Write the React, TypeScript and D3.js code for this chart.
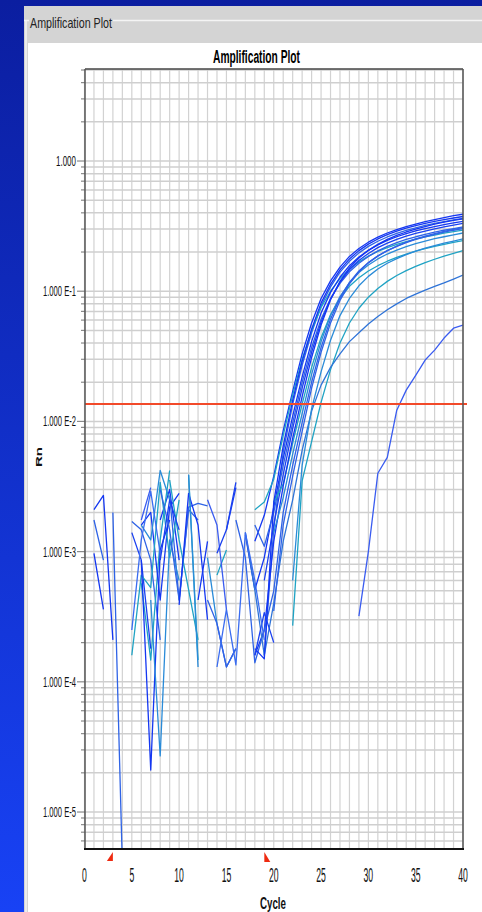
import React from 'react';
import * as d3 from 'd3';

// cycle numbers, one per reading
const cycles = [1, 2, 3, 4, 5, 6, 7, 8, 9, 10, 11, 12, 13, 14, 15, 16, 17, 18, 19, 20,
  21, 22, 23, 24, 25, 26, 27, 28, 29, 30, 31, 32, 33, 34, 35, 36, 37, 38, 39, 40];

const xTicks = [0, 5, 10, 15, 20, 25, 30, 35, 40];
const yTickValues = [1, 1e-1, 1e-2, 1e-3, 1e-4, 1e-5];
const yTickLabels = ['1.000', '1.000 E-1', '1.000 E-2', '1.000 E-3', '1.000 E-4', '1.000 E-5'];
const threshold = 0.0136;
const baselineStart = 3;
const baselineEnd = 19;

// delta Rn per well (null = no positive reading)
const well01 = [2.1e-3, 2.7e-3, 2.1e-4, null, null, null, null, 1.75e-3, 3.0e-3, 8.6e-4,
  null, null, null, null, null, null, null, 1.2e-3, 1.9e-3, 3.8e-3,
  8.5e-3, 0.017, 0.033, 0.057, 0.088, 0.12, 0.153, 0.185, 0.213, 0.238,
  0.26, 0.28, 0.297, 0.313, 0.328, 0.342, 0.355, 0.368, 0.38, 0.39];
const well02 = [1.75e-3, 8.6e-4, null, null, 1.7e-3, 1.47e-3, 8.6e-4, 2.1e-4, null, null,
  null, null, null, 2.8e-4, 1.3e-4, 1.8e-4, null, null, 1.6e-4, 1.5e-3,
  5.8e-3, 0.0136, 0.027, 0.048, 0.077, 0.108, 0.14, 0.17, 0.197, 0.221,
  0.242, 0.261, 0.278, 0.293, 0.307, 0.32, 0.332, 0.343, 0.353, 0.362];
const well03 = [null, null, null, null, null, 5.7e-4, 1.47e-4, 1.23e-3, 4.2e-3, null,
  3.9e-3, 1.47e-4, null, null, null, null, null, 2.1e-3, 2.4e-3, 3.6e-3,
  7.8e-3, 0.016, 0.03, 0.05, 0.075, 0.1, 0.125, 0.148, 0.168, 0.186,
  0.202, 0.216, 0.229, 0.24, 0.251, 0.261, 0.27, 0.279, 0.287, 0.295];
const well04 = [9.7e-4, 3.6e-4, null, null, null, 1.6e-3, 2.0e-3, 4.25e-4, 2.2e-3, 2.8e-3,
  null, null, null, null, null, null, 1.35e-3, 5.1e-4, 9e-4, 2.2e-3,
  5.2e-3, 0.011, 0.022, 0.041, 0.068, 0.098, 0.128, 0.157, 0.183, 0.206,
  0.227, 0.246, 0.262, 0.277, 0.291, 0.303, 0.314, 0.325, 0.335, 0.344];
const well05 = [null, null, 2.0e-3, 4e-6, null, null, null, null, 2.7e-3, 4.25e-4,
  2.2e-3, 2.35e-3, 2.25e-3, null, null, null, null, 1.6e-3, 1.1e-3, 2.0e-3,
  4.6e-3, 9.8e-3, 0.02, 0.037, 0.061, 0.088, 0.115, 0.141, 0.164, 0.185,
  0.204, 0.221, 0.236, 0.25, 0.262, 0.273, 0.284, 0.294, 0.303, 0.312];
const well06 = [null, null, null, null, 1.4e-3, 8.6e-4, 1.8e-4, null, null, null,
  null, null, null, null, 1.47e-3, 3.1e-3, null, null, 6e-4, 1.6e-3,
  3.9e-3, 8.8e-3, 0.018, 0.034, 0.058, 0.087, 0.117, 0.146, 0.172, 0.195,
  0.216, 0.234, 0.25, 0.265, 0.278, 0.29, 0.301, 0.312, 0.322, 0.332];
const well07 = [null, null, null, null, 1.6e-4, 6.6e-4, 5.3e-4, 3.4e-3, 9.0e-4, 2.5e-3,
  null, null, null, null, null, null, null, null, null, 2.4e-3,
  3.3e-3, 6.8e-3, 0.0136, 0.026, 0.044, 0.066, 0.088, 0.109, 0.127, 0.143,
  0.157, 0.17, 0.182, 0.193, 0.203, 0.212, 0.221, 0.229, 0.237, 0.245];
const well08 = [null, null, null, null, null, 8.6e-4, 2.1e-5, 1.03e-3, 1.75e-3, null,
  null, 4.25e-4, 1.2e-3, null, null, null, null, 1.6e-4, 2.5e-4, 1.2e-3,
  3.2e-3, 7.4e-3, 0.0155, 0.031, 0.055, 0.086, 0.119, 0.151, 0.18, 0.206,
  0.229, 0.25, 0.268, 0.285, 0.3, 0.314, 0.327, 0.339, 0.35, 0.36];
const well09 = [null, null, null, null, null, null, 4.25e-4, 2.7e-5, 1.23e-3, 6.0e-4,
  null, null, 9.0e-4, 2.8e-4, null, null, null, null, null, 1.4e-3,
  2.6e-3, 5.6e-3, 0.0115, 0.023, 0.041, 0.065, 0.091, 0.116, 0.139, 0.159,
  0.177, 0.193, 0.207, 0.22, 0.232, 0.243, 0.253, 0.262, 0.271, 0.28];
const well10 = [null, null, null, null, null, null, null, 3.0e-3, 1.47e-3, 4.25e-4,
  2.1e-3, 1.75e-3, null, null, null, 1.75e-3, 9.0e-4, 1.4e-4, 2.5e-4, 5e-4,
  2.0e-3, 4.6e-3, 9.8e-3, 0.02, 0.037, 0.061, 0.089, 0.117, 0.143, 0.166,
  0.187, 0.205, 0.221, 0.236, 0.25, 0.262, 0.273, 0.284, 0.294, 0.303];
const well11 = [null, null, null, null, null, null, null, null, 3.55e-3, 1.23e-3,
  5.1e-4, 2.1e-4, null, 6.6e-4, 1.03e-3, null, null, null, null, null,
  null, 2.7e-4, 3.5e-3, 7.0e-3, 0.014, 0.025, 0.04, 0.057, 0.074, 0.09,
  0.105, 0.119, 0.132, 0.144, 0.155, 0.166, 0.176, 0.186, 0.195, 0.205];
const well12 = [null, null, null, null, null, null, null, null, null, null,
  null, null, null, null, null, null, 1.4e-3, 5.1e-4, 1.6e-4, 4e-4,
  1.2e-3, 2.5e-3, 6e-3, 0.012, 0.019, 0.026, 0.033, 0.041, 0.048, 0.056,
  0.064, 0.072, 0.08, 0.088, 0.095, 0.102, 0.109, 0.116, 0.124, 0.133];
const well13 = [null, null, null, null, null, 1.75e-3, 3.1e-3, null, null, null,
  null, null, 2.5e-3, 1.6e-3, 3.6e-4, null, null, null, null, null,
  null, null, null, null, null, null, null, null, 3.2e-4, 1.0e-3,
  4.0e-3, 5.3e-3, 0.0122, 0.0174, 0.0226, 0.0296, 0.0353, 0.0437, 0.052, 0.055];
const well14 = [null, null, null, null, null, null, null, null, null, 3.9e-4,
  2.8e-3, 1.6e-3, 3.0e-4, null, null, null, null, 1.8e-4, 1.5e-4, 2.4e-3,
  6.5e-3, 0.0145, 0.029, 0.051, 0.081, 0.113, 0.146, 0.177, 0.205, 0.23,
  0.252, 0.272, 0.289, 0.305, 0.319, 0.332, 0.344, 0.355, 0.365, 0.375];
const well15 = [null, null, null, null, null, null, null, null, null, null,
  null, null, 4.25e-4, 2.8e-4, 1.3e-4, 1.8e-4, null, null, null, 3.5e-4,
  1.6e-3, 3.8e-3, 8.4e-3, 0.018, 0.034, 0.057, 0.085, 0.114, 0.141, 0.165,
  0.186, 0.205, 0.222, 0.238, 0.252, 0.265, 0.277, 0.288, 0.298, 0.308];
const well16 = [null, null, null, null, null, 1.6e-3, 1.23e-3, 4.2e-3, 2.5e-3, null,
  3.9e-3, 1.3e-4, null, null, null, null, null, null, null, null,
  null, 6.0e-4, 4.6e-3, 0.0125, 0.024, 0.042, 0.065, 0.088, 0.11, 0.13,
  0.148, 0.164, 0.178, 0.191, 0.203, 0.214, 0.224, 0.234, 0.243, 0.252];
const well17 = [null, null, null, null, null, null, null, 8.6e-4, 2.5e-3, 1.47e-3,
  null, null, null, 9.7e-4, 1.47e-3, 3.4e-3, null, 1.6e-4, 3.4e-4, 2.0e-4,
  null, null, null, null, null, null, null, null, null, null,
  null, null, null, null, null, null, null, null, null, null];
const well18 = [null, null, null, null, 2.5e-4, 1.23e-3, 2.9e-3, 9.7e-4, null, null,
  null, null, null, 1.3e-4, 3.6e-4, 1.35e-4, 1.4e-3, 6e-4, 2.1e-4, null,
  null, null, null, null, null, null, null, null, null, null,
  null, null, null, null, null, null, null, null, null, null];

const wells = [well01, well02, well03, well04, well05, well06, well07, well08, well09,
  well10, well11, well12, well13, well14, well15, well16, well17, well18];
const wellColors = ['#1437f2', '#2f63e6', '#1fa3c4', '#1437f2', '#2f63e6', '#1a40f0',
  '#1fa3c4', '#1437f2', '#2a8bd8', '#2f63e6', '#1fa3c4', '#2f74d8', '#3a5cf0', '#1437f2',
  '#2f63e6', '#2a8bd8', '#1a40f0', '#3a6cf0'];

const W = 482;
const H = 912;
const plot = { left: 85, right: 463, top: 69, bottom: 849 };

const App: React.FC = () => {
  const x = d3.scaleLinear().domain([0, 40]).range([84.5, plot.right]);
  const y = d3.scaleLog().domain([5.2e-6, 5.09]).range([plot.bottom, plot.top]);
  const gridY = y.ticks();
  const gridX = d3.range(0, 41);

  const line = d3.line<number | null>()
    .defined(v => v != null && v > 0)
    .x((_, i) => x(cycles[i]))
    .y(v => y(v as number));

  const font = '"Liberation Sans", Arial, sans-serif';

  return (
    <div style={{ position: 'absolute', left: 0, top: 0, width: W, height: H, overflow: 'hidden' }}>
      <svg width={W} height={H} style={{ display: 'block' }}>
        <defs>
          <linearGradient id="bg" x1="0" y1="0" x2="0" y2="1">
            <stop offset="0" stopColor="#0b1ea0" />
            <stop offset="1" stopColor="#1842f5" />
          </linearGradient>
          <clipPath id="plotClip">
            <rect x={plot.left} y={plot.top} width={plot.right - plot.left} height={plot.bottom - plot.top} />
          </clipPath>
        </defs>
        <rect width={W} height={H} fill="url(#bg)" />
        {/* window panel */}
        <rect x={24} y={6} width={W - 24} height={H - 6} fill="#d4d4d4" />
        <rect x={28} y={43} width={W - 28} height={H - 43} fill="#ffffff" />
        <line x1={113} x2={W} y1={20.5} y2={20.5} stroke="#f4f4f4" strokeWidth={1.5} />
        <line x1={24} x2={29} y1={20.5} y2={20.5} stroke="#f4f4f4" strokeWidth={1.5} />
        <line x1={26} x2={26} y1={20} y2={H} stroke="#f4f4f4" strokeWidth={1.5} />
        <text x={30} y={28} fontFamily={font} fontSize={15} fill="#222"
          textLength={82} lengthAdjust="spacingAndGlyphs">Amplification Plot</text>

        {/* chart title */}
        <text x={213} y={63} fontFamily={font} fontSize={18} fontWeight="bold" fill="#000"
          textLength={87} lengthAdjust="spacingAndGlyphs">Amplification Plot</text>

        {/* grid */}
        {gridX.map(c => (
          <line key={'gx' + c} x1={x(c)} x2={x(c)} y1={plot.top} y2={plot.bottom}
            stroke="#d2d2d2" strokeWidth={1.2} />
        ))}
        {gridY.map((v, i) => (
          <line key={'gy' + i} x1={plot.left} x2={plot.right} y1={y(v)} y2={y(v)}
            stroke="#cfcfcf" strokeWidth={1.5} />
        ))}

        {/* y ticks */}
        {gridY.map((v, i) => {
          const major = yTickValues.some(t => Math.abs(t - v) / t < 1e-6);
          return (
            <line key={'ty' + i} x1={major ? 77 : 81} x2={plot.left} y1={y(v)} y2={y(v)}
              stroke="#8a8a8a" strokeWidth={1.2} />
          );
        })}
        {yTickValues.map((v, i) => {
          const len = yTickLabels[i].length > 5 ? 33 : 20;
          return (
            <text key={'ly' + i} x={76 - len} y={y(v) + 5} fontFamily={font} fontSize={14} fill="#111"
              textLength={len} lengthAdjust="spacingAndGlyphs">{yTickLabels[i]}</text>
          );
        })}

        {/* curves */}
        <g clipPath="url(#plotClip)">
          {wells.map((w, i) => (
            <path key={'w' + i} d={line(w) || ''} fill="none" stroke={wellColors[i]}
              strokeWidth={1.3} strokeLinejoin="round" />
          ))}
        </g>

        {/* threshold */}
        <line x1={plot.left} x2={467} y1={y(threshold)} y2={y(threshold)} stroke="#f24a2a" strokeWidth={2} />

        {/* frame */}
        <line x1={plot.left} x2={plot.right} y1={plot.top} y2={plot.top} stroke="#444" strokeWidth={1.5} />
        <line x1={plot.right} x2={plot.right} y1={plot.top} y2={plot.bottom} stroke="#555" strokeWidth={1.5} />
        <line x1={plot.left} x2={plot.left} y1={plot.top} y2={plot.bottom} stroke="#555" strokeWidth={1.5} />
        <line x1={84} x2={plot.right + 1} y1={plot.bottom} y2={plot.bottom} stroke="#111" strokeWidth={2.2} />

        {/* baseline markers */}
        <polygon points={`${x(baselineStart) - 6},861 ${x(baselineStart)},852 ${x(baselineStart)},861`} fill="#ee2a10" />
        <polygon points={`${x(baselineEnd)},852 ${x(baselineEnd)},862 ${x(baselineEnd) + 6},862`} fill="#ee2a10" />

        {/* x ticks */}
        {xTicks.map(t => {
          const s = String(t);
          const len = s.length * 4.8;
          return (
            <text key={'lx' + t} x={x(t) - len / 2} y={882} fontFamily={font} fontSize={20} fill="#111"
              textLength={len} lengthAdjust="spacingAndGlyphs">{s}</text>
          );
        })}
        <text x={260} y={909} fontFamily={font} fontSize={17} fontWeight="bold" fill="#111"
          textLength={26} lengthAdjust="spacingAndGlyphs">Cycle</text>

        {/* y axis title */}
        <text transform="translate(42,467) rotate(-90)" fontFamily={font} fontSize={15} fontWeight="bold"
          fill="#111" textLength={20} lengthAdjust="spacingAndGlyphs"
          style={{ transform: 'translate(42px,467px) scale(0.6,1) rotate(-90deg)' }}>Rn</text>
      </svg>
    </div>
  );
};

export default App;
